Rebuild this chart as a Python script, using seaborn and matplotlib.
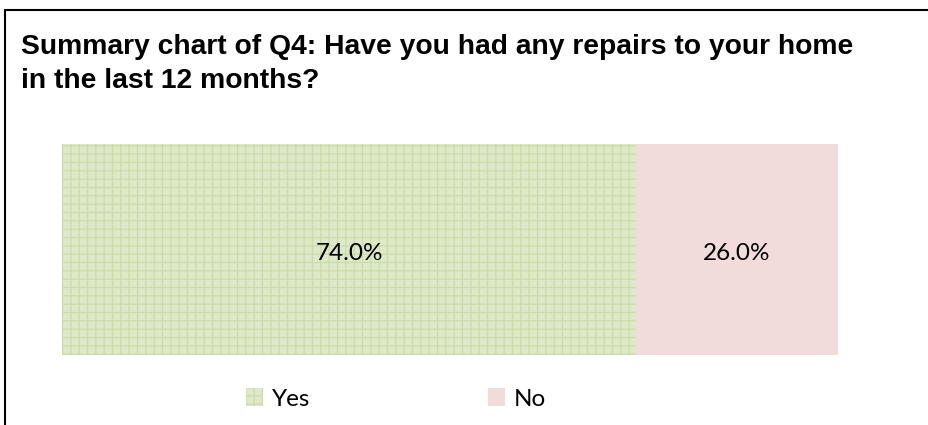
import matplotlib
matplotlib.use('Agg')
import matplotlib.pyplot as plt
import seaborn as sns
import pandas as pd
from matplotlib.lines import Line2D
from matplotlib.patches import Patch

categories = ['Yes', 'No']
values = [74.0, 26.0]
colors = ['#dde9c8', '#f2dcdb']
hatch_col = '#cbdcaa'
title = 'Summary chart of Q4: Have you had any repairs to your home\nin the last 12 months?'

sns.set_style('white')
plt.rcParams['hatch.linewidth'] = 0.9

fig = plt.figure(figsize=(9.29, 4.25), dpi=100)
ax = fig.add_axes([62 / 929, 70 / 425, 776 / 929, 211 / 425])

# stacked single bar: full width in "No" colour, "Yes" portion drawn on top
df = pd.DataFrame({'row': [''], 'total': [sum(values)], 'yes': [values[0]]})
sns.barplot(data=df, x='total', y='row', color=colors[1], width=1.0,
            saturation=1, ax=ax, orient='h')
sns.barplot(data=df, x='yes', y='row', color=colors[0], width=1.0,
            saturation=1, ax=ax, orient='h')
for p in ax.patches:
    p.set_linewidth(0)
    p.set_edgecolor('none')
for p in ax.patches[1:]:
    p.set_edgecolor(hatch_col)
    p.set_hatch('++')

ax.set_xlim(0, 100)
ax.set_ylim(0.5, -0.5)
ax.set_axis_off()

lab_font = ['Lato', 'DejaVu Sans']
start = 0
for v in values:
    ax.text(start + v / 2, 0.02, f'{v:.1f}%', ha='center', va='center',
            fontsize=17.5, family=lab_font, color='black')
    start += v

fig.text(21 / 929, 1 - 34 / 425, title, ha='left', va='top', fontsize=20.3,
         fontweight='bold', family='Liberation Sans', linespacing=1.38,
         color='black')

handles = [Patch(facecolor=colors[0], hatch='++', edgecolor=hatch_col, linewidth=0),
           Patch(facecolor=colors[1], edgecolor='none', linewidth=0)]
fig.legend(handles, categories, loc='center', bbox_to_anchor=(396 / 929, 1 - 399 / 425),
           ncol=2, frameon=False, prop={'family': lab_font, 'size': 17.5},
           handlelength=0.72, handleheight=0.72, handletextpad=0.35, columnspacing=7.3,
           labelcolor='black')

fig.add_artist(Line2D([5 / 929, 1], [1 - 10 / 425] * 2, color='black', lw=1.5,
                      transform=fig.transFigure))
fig.add_artist(Line2D([5 / 929] * 2, [0, 1 - 10 / 425], color='black', lw=1.5,
                      transform=fig.transFigure))

fig.savefig('out.png', dpi=100)
